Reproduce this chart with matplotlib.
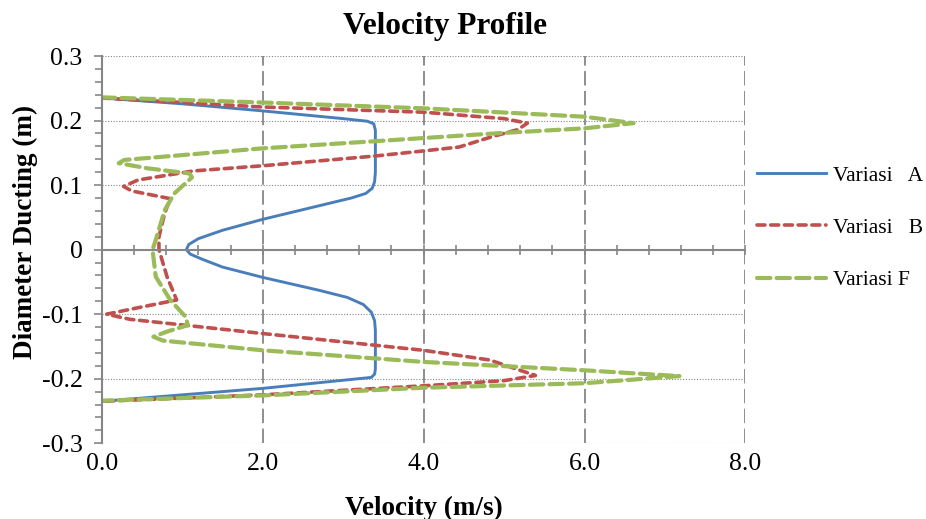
import matplotlib
matplotlib.use("Agg")
import matplotlib.pyplot as plt
from matplotlib.ticker import MultipleLocator, FixedLocator

plt.rcParams["font.family"] = ["Liberation Serif", "DejaVu Serif"]

# ─── data ────────────────────────────────────────────────────────────────────
a_vel = [0.0, 1.0, 2.0, 3.0, 3.3, 3.38, 3.40, 3.40, 3.39, 3.36, 3.28, 3.10, 2.6, 2.0, 1.5, 1.2,
         1.08, 1.05, 1.10, 1.25, 1.5, 2.0, 2.7, 3.05, 3.25, 3.35, 3.39, 3.40, 3.40, 3.39, 3.35,
         2.0, 1.0, 0.0]
a_pos = [0.235, 0.226, 0.215, 0.203, 0.199, 0.195, 0.185, 0.12, 0.105, 0.095, 0.087, 0.080, 0.065,
         0.047, 0.030, 0.017, 0.008, 0.0, -0.007, -0.015, -0.027, -0.043, -0.063, -0.074,
         -0.085, -0.097, -0.11, -0.125, -0.185, -0.193, -0.198, -0.215, -0.225, -0.235]

b_vel = [0.0, 2.0, 4.0, 5.0, 5.29, 5.17, 4.85, 4.44, 4.0, 3.39, 2.0, 1.14, 0.45, 0.27, 0.37, 0.85,
         0.78, 0.71, 0.71, 0.81, 0.93, 0.45, 0.06, 0.35, 2.0, 4.0, 4.82, 5.39, 5.0, 4.0, 2.0, 0.0]
b_pos = [0.235, 0.221, 0.213, 0.203, 0.196, 0.186, 0.175, 0.159, 0.153, 0.145, 0.130, 0.122, 0.108,
         0.098, 0.091, 0.079, 0.056, 0.02, 0.0, -0.042, -0.078, -0.090, -0.100, -0.108,
         -0.130, -0.156, -0.171, -0.195, -0.203, -0.211, -0.225, -0.235]

f_vel = [0.0, 2.0, 4.0, 6.0, 6.61, 6.0, 4.87, 3.39, 2.0, 0.28, 0.21, 0.57, 1.09, 1.12, 0.9, 0.78,
         0.67, 0.63, 0.67, 0.85, 1.04, 1.07, 0.81, 0.64, 0.76, 2.0, 4.0, 6.0, 7.18, 6.0, 4.0, 2.0, 0.0]
f_pos = [0.236, 0.228, 0.219, 0.206, 0.196, 0.188, 0.180, 0.168, 0.157, 0.139, 0.134, 0.126, 0.118,
         0.112, 0.087, 0.061, 0.015, 0.0, -0.042, -0.078, -0.104, -0.117, -0.127, -0.135, -0.141,
         -0.156, -0.174, -0.187, -0.196, -0.207, -0.214, -0.226, -0.234]

series_labels = ["Variasi   A", "Variasi   B", "Variasi F"]
x_ticks = [0.0, 2.0, 4.0, 6.0, 8.0]
y_ticks = [-0.3, -0.2, -0.1, 0.0, 0.1, 0.2, 0.3]
y_tick_labels = ["-0.3", "-0.2", "-0.1", "0", "0.1", "0.2", "0.3"]

GRAY = "#868686"

# ─── figure ──────────────────────────────────────────────────────────────────
fig = plt.figure(figsize=(9.26, 5.19), dpi=100)
ax = fig.add_axes([0.110, 0.146, 0.695, 0.746])

ax.plot(a_vel, a_pos, color="#4A7EBB", lw=2.1, label=series_labels[0],
        solid_joinstyle="round")
ax.plot(b_vel, b_pos, color="#C0504D", lw=2.6, label=series_labels[1],
        dashes=(2.2, 1.6), dash_capstyle="round")
ax.plot(f_vel, f_pos, color="#9BBB59", lw=3.0, label=series_labels[2],
        dashes=(3.2, 1.5), dash_capstyle="round")

ax.set_xlim(0, 8)
ax.set_ylim(-0.3, 0.3)

# gridlines
for x in x_ticks[1:]:
    ax.axvline(x, color=GRAY, lw=1.3, dashes=(8, 3), zorder=0)
for y in y_ticks:
    if y != 0:
        ax.axhline(y, color=GRAY, lw=0.8, dashes=(1, 1.5), zorder=0)

# spines
for s in ("top", "right"):
    ax.spines[s].set_visible(False)
ax.spines["left"].set_color(GRAY)
ax.spines["left"].set_linewidth(1.5)
ax.spines["bottom"].set_position(("data", 0))
ax.spines["bottom"].set_color(GRAY)
ax.spines["bottom"].set_linewidth(1.5)

ax.xaxis.set_major_locator(MultipleLocator(0.4))
ax.tick_params(axis="x", which="major", direction="inout", length=7, width=1.2,
               color=GRAY, labelbottom=False)

ax.yaxis.set_major_locator(FixedLocator(y_ticks))
ax.yaxis.set_minor_locator(MultipleLocator(0.02))
ax.set_yticklabels(y_tick_labels)
ax.tick_params(axis="y", which="major", direction="out", length=6, width=1.2,
               color=GRAY, labelsize=18.5, pad=8)
ax.tick_params(axis="y", which="minor", direction="out", length=5, width=1.2,
               color=GRAY)

# x tick labels at the bottom of the plot area
sec = ax.secondary_xaxis(0.0)
sec.set_xticks(x_ticks)
sec.set_xticklabels([f"{v:.1f}" for v in x_ticks])
sec.tick_params(length=0, labelsize=18.5, pad=7)
sec.spines["bottom"].set_visible(False)

ax.set_xlabel("Velocity (m/s)", fontsize=19.5, fontweight="bold")
ax.xaxis.set_label_coords(0.5, -0.135)
ax.set_ylabel("Diameter Ducting (m)", fontsize=19.5, fontweight="bold")
ax.yaxis.set_label_coords(-0.100, 0.545)

fig.text(0.481, 0.948, "Velocity Profile", fontsize=22.5, fontweight="bold",
         ha="center", va="center")

ax.legend(loc="center left", bbox_to_anchor=(1.018, 0.556), frameon=False,
          fontsize=15.5, handlelength=3.2, labelspacing=1.5, handletextpad=0.35,
          borderpad=0, borderaxespad=0)

fig.savefig("out.png", dpi=100)
